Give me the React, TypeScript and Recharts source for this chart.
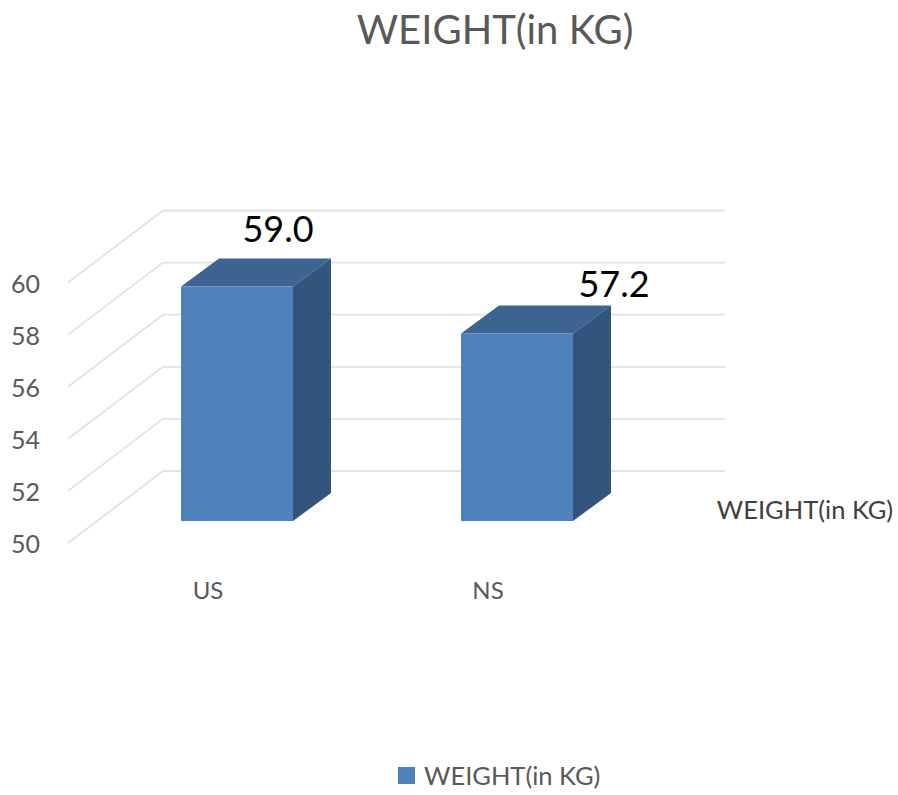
import React from "react";
import { BarChart, Bar, XAxis, YAxis, CartesianGrid, Legend, LabelList } from "recharts";

const categories = ["US", "NS"];
const weights = [59.0, 57.2];
const weightTicks = [50, 52, 54, 56, 58, 60];

const seriesName = "WEIGHT(in KG)";
const chartData = categories.map((group, i) => ({ group, weight: weights[i] }));

const FONT = "Lato, 'Noto Sans', sans-serif";

// depth of the extruded bars
const DEPTH_X = 38;
const DEPTH_Y = 28;

// where each value label sits relative to the bar's top centre
const labelOffsets = [
  { dx: 41, dy: -45 },
  { dx: 97, dy: -36 },
];

// one grid line: slanted up the side wall, then flat along the back wall
const WallLine = ({ y1 }: any) => (
  <polyline
    points={`68,${y1 + 22} 163,${y1 - 50} 725,${y1 - 50}`}
    fill="none"
    stroke="#e2e2e2"
    strokeWidth={1.8}
  />
);

const WeightTick = ({ y, payload }: any) => (
  <text x={40} y={y + 32} textAnchor="end" fontSize={25} fontFamily={FONT} fill="#595959">
    {payload.value}
  </text>
);

const GroupTick = ({ x, y, payload }: any) => (
  <text x={x - 29} y={y + 70} textAnchor="middle" fontSize={24} fontFamily={FONT} fill="#595959">
    {payload.value}
  </text>
);

const Bar3D = ({ x, y, width, height }: any) => {
  const right = x + width;
  const bottom = y + height;
  return (
    <g>
      <polygon
        points={`${x},${y} ${x + DEPTH_X},${y - DEPTH_Y} ${right + DEPTH_X},${y - DEPTH_Y} ${right},${y}`}
        fill="#3d6391"
      />
      <polygon
        points={`${right},${y} ${right + DEPTH_X},${y - DEPTH_Y} ${right + DEPTH_X},${bottom - DEPTH_Y} ${right},${bottom}`}
        fill="#33547c"
      />
      <rect x={x} y={y} width={width} height={height} fill="#4f81bd" />
    </g>
  );
};

const ValueLabel = ({ x, y, width, value, index }: any) => (
  <text
    x={x + width / 2 + labelOffsets[index].dx}
    y={y + labelOffsets[index].dy}
    textAnchor="middle"
    fontSize={36}
    fontFamily={FONT}
    fill="#000000"
  >
    {Number(value).toFixed(1)}
  </text>
);

const LegendRow = () => (
  <div style={{ display: "flex", alignItems: "center", fontFamily: FONT, fontSize: 25.5, color: "#595959" }}>
    <span style={{ width: 17, height: 17, background: "#4f81bd", marginRight: 9 }} />
    {seriesName}
  </div>
);

export default function App() {
  return (
    <div style={{ position: "absolute", left: 0, top: 0, width: 898, height: 795, background: "#fff" }}>
      <BarChart
        width={898}
        height={795}
        data={chartData}
        margin={{ top: 260.5, right: 241, bottom: 174, left: 0 }}
        barCategoryGap="30%"
      >
        <text x={495} y={44} textAnchor="middle" fontSize={40} fontFamily={FONT} fill="#595959">
          {seriesName}
        </text>
        <text x={805} y={519} textAnchor="middle" fontSize={25.5} fontFamily={FONT} fill="#404040">
          {seriesName}
        </text>
        <CartesianGrid
          vertical={false}
          horizontal={<WallLine />}
          horizontalValues={weightTicks}
          syncWithTicks
        />
        <YAxis
          width={97}
          domain={[50, 60]}
          ticks={weightTicks}
          interval={0}
          axisLine={false}
          tickLine={false}
          tick={<WeightTick />}
        />
        <XAxis
          dataKey="group"
          height={100}
          axisLine={false}
          tickLine={false}
          tick={<GroupTick />}
        />
        <Legend
          layout="horizontal"
          align="center"
          verticalAlign="middle"
          wrapperStyle={{ left: 398, top: 760, width: "auto" }}
          content={<LegendRow />}
        />
        <Bar dataKey="weight" name={seriesName} shape={<Bar3D />} isAnimationActive={false}>
          <LabelList dataKey="weight" content={<ValueLabel />} />
        </Bar>
      </BarChart>
    </div>
  );
}
